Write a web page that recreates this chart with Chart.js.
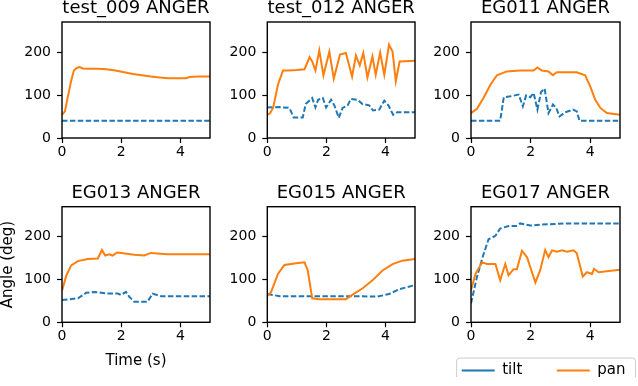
<!DOCTYPE html>
<html>
<head>
<meta charset="utf-8">
<script src="https://cdn.jsdelivr.net/npm/chart.js@4/dist/chart.umd.min.js"></script>
<style>
html, body { margin: 0; padding: 0; background: #fff; overflow: hidden; }
#fig { position: relative; width: 638px; height: 386px; overflow: hidden; background: #fff; }
#fig canvas { position: absolute; }
</style>
</head>
<body>
<div id="fig"></div>
<script>
// tick labels and names
const xTicks = [0, 2, 4];
const yTicks = [0, 100, 200];
const seriesNames = ['tilt', 'pan'];
const panelTitles = ['test_009 ANGER', 'test_012 ANGER', 'EG011 ANGER', 'EG013 ANGER', 'EG015 ANGER', 'EG017 ANGER'];
const xAxisTitle = 'Time (s)';
const yAxisTitle = 'Angle (deg)';

// test_009
const test009TiltTime = [0, 5];
const test009Tilt = [40, 40];
const test009PanTime = [0, 0.1, 0.2, 0.3, 0.4, 0.5, 0.6, 0.7, 0.9, 1.2, 1.5, 1.8, 2.1, 2.4, 2.7, 3.0, 3.3, 3.6, 3.9, 4.2, 4.3, 4.6, 5.0];
const test009Pan = [54, 62, 97, 130, 157, 163, 165, 162, 161, 161, 160, 157, 153, 149, 146, 143, 141, 139, 139, 139, 142, 143, 143];

// test_012
const test012TiltTime = [0, 0.4, 0.75, 0.89, 1.2, 1.3, 1.52, 1.63, 1.72, 1.88, 1.99, 2.16, 2.27, 2.42, 2.55, 2.72, 2.83, 3.06, 3.22, 3.45, 3.58, 3.79, 3.96, 4.1, 4.26, 4.4, 5.0];
const test012Tilt = [71, 72, 70, 48, 48, 79, 93, 71, 89, 93, 71, 89, 76, 47, 70, 76, 91, 89, 79, 76, 64, 66, 87, 76, 54, 60, 60];
const test012PanTime = [0, 0.1, 0.2, 0.36, 0.53, 0.7, 1.0, 1.26, 1.43, 1.52, 1.63, 1.76, 1.9, 2.1, 2.25, 2.46, 2.66, 2.87, 3.0, 3.13, 3.25, 3.39, 3.56, 3.67, 3.82, 3.96, 4.12, 4.24, 4.35, 4.48, 5.0];
const test012Pan = [54, 58, 71, 124, 157, 157, 158, 160, 188, 178, 157, 204, 146, 201, 138, 194, 198, 143, 192, 169, 198, 141, 190, 147, 199, 147, 217, 201, 132, 178, 180];

// EG011
const eg011TiltTime = [0, 0.98, 1.1, 1.32, 1.6, 1.74, 1.85, 1.99, 2.1, 2.23, 2.35, 2.47, 2.6, 2.75, 2.86, 2.97, 3.16, 3.42, 3.55, 3.64, 5.0];
const eg011Tilt = [40, 40, 95, 97, 101, 74, 99, 95, 105, 66, 107, 115, 58, 78, 70, 50, 60, 66, 62, 40, 40];
const eg011PanTime = [0, 0.2, 0.42, 0.65, 0.87, 1.2, 1.65, 2.1, 2.23, 2.38, 2.6, 2.75, 2.88, 3.55, 3.83, 4.0, 4.17, 4.34, 4.56, 5.0];
const eg011Pan = [58, 68, 93, 124, 146, 155, 157, 157, 164, 157, 155, 146, 153, 153, 146, 120, 89, 70, 58, 54];

// EG013
const eg013TiltTime = [0, 0.54, 0.82, 1.1, 1.55, 1.88, 2.0, 2.16, 2.27, 2.44, 2.89, 3.06, 3.35, 5.0];
const eg013Tilt = [52, 56, 69, 71, 67, 67, 64, 71, 60, 48, 48, 67, 61, 61];
const eg013PanTime = [0, 0.15, 0.31, 0.54, 0.87, 1.21, 1.35, 1.46, 1.6, 1.71, 1.86, 2.0, 2.44, 2.78, 3.0, 3.56, 5.0];
const eg013Pan = [74, 110, 133, 143, 148, 149, 169, 156, 159, 156, 163, 162, 158, 156, 162, 159, 159];

// EG015
const eg015TiltTime = [0, 0.42, 3.0, 3.73, 4.12, 4.46, 5.0];
const eg015Tilt = [66, 61, 61, 60, 66, 77, 87];
const eg015PanTime = [0, 0.13, 0.36, 0.58, 0.98, 1.26, 1.37, 1.52, 1.76, 2.66, 2.94, 3.22, 3.56, 3.9, 4.24, 4.57, 5.0];
const eg015Pan = [61, 71, 113, 134, 138, 140, 121, 56, 54, 54, 67, 79, 98, 121, 136, 144, 148];

// EG017
const eg017TiltTime = [0, 0.2, 0.42, 0.59, 0.82, 0.98, 1.26, 1.52, 1.65, 1.99, 2.32, 3.22, 5.0];
const eg017Tilt = [44, 106, 159, 194, 202, 219, 225, 225, 231, 226, 228, 231, 231];
const eg017PanTime = [0, 0.15, 0.37, 0.54, 0.82, 0.98, 1.15, 1.26, 1.43, 1.54, 1.71, 1.88, 2.16, 2.32, 2.49, 2.6, 2.72, 2.88, 3.05, 3.22, 3.44, 3.55, 3.75, 3.89, 4.06, 4.13, 4.28, 5.0];
const eg017Pan = [75, 113, 140, 136, 136, 98, 136, 110, 124, 124, 167, 152, 93, 121, 169, 152, 168, 165, 168, 165, 168, 161, 107, 117, 113, 125, 117, 123];

Chart.defaults.font.family = "'DejaVu Sans', sans-serif";
Chart.defaults.color = '#000';

const TILT_COLOR = '#1f77b4';
const PAN_COLOR = '#ff7f0e';
const LABEL_SIZE = 15;

function toPoints(ts, vs) {
    return ts.map((t, i) => ({ x: t, y: vs[i] }));
}

// black box round each plot, like matplotlib spines
const panelFrame = {
    id: 'panelFrame',
    afterDraw(chart) {
        const { left, top, right, bottom } = chart.chartArea;
        const ctx = chart.ctx;
        ctx.save();
        ctx.strokeStyle = '#000';
        ctx.lineWidth = 1.4;
        ctx.strokeRect(left, top, right - left, bottom - top);
        ctx.restore();
    }
};

// moves the legend to its spot and draws the rounded grey frame
const legendFrame = {
    id: 'legendFrame',
    afterLayout(chart, args, opts) {
        if (!opts.place) return;
        const lg = chart.legend;
        const p = lg.options.labels.padding;
        const left = opts.place.x - p;
        const top = opts.place.y - p - LABEL_SIZE / 2;
        lg.left = left; lg.top = top;
        lg.width = 400; lg.height = 80;
        lg.right = left + 400; lg.bottom = top + 80;
    },
    afterDraw(chart, args, opts) {
        if (!opts.place) return;
        const lg = chart.legend;
        const ctx = chart.ctx;
        const lab = lg.options.labels;
        ctx.save();
        ctx.font = LABEL_SIZE + "px 'DejaVu Sans'";
        let x = opts.place.x;
        let end = x;
        lg.legendItems.forEach(item => {
            const w = lab.pointStyleWidth + LABEL_SIZE / 2 + ctx.measureText(item.text).width;
            end = x + w;
            x += w + lab.padding;
        });
        const x0 = opts.place.x - 5, x1 = end + 10;
        const y0 = opts.place.y - 12.5, y1 = opts.place.y + 12.5;
        ctx.strokeStyle = '#cccccc';
        ctx.lineWidth = 1;
        ctx.beginPath();
        ctx.roundRect(x0, y0, x1 - x0, y1 - y0, 3);
        ctx.stroke();
        ctx.restore();
    }
};

const panels = [
    { title: panelTitles[0], tiltT: test009TiltTime, tiltV: test009Tilt, panT: test009PanTime, panV: test009Pan },
    { title: panelTitles[1], tiltT: test012TiltTime, tiltV: test012Tilt, panT: test012PanTime, panV: test012Pan },
    { title: panelTitles[2], tiltT: eg011TiltTime, tiltV: eg011Tilt, panT: eg011PanTime, panV: eg011Pan },
    { title: panelTitles[3], tiltT: eg013TiltTime, tiltV: eg013Tilt, panT: eg013PanTime, panV: eg013Pan },
    { title: panelTitles[4], tiltT: eg015TiltTime, tiltV: eg015Tilt, panT: eg015PanTime, panV: eg015Pan },
    { title: panelTitles[5], tiltT: eg017TiltTime, tiltV: eg017Tilt, panT: eg017PanTime, panV: eg017Pan }
];

// plot-area boxes in page pixels
const plotBoxes = [
    { left: 62, top: 22, w: 148, h: 116 },
    { left: 267.3, top: 22, w: 147.7, h: 116 },
    { left: 471, top: 22, w: 149, h: 116 },
    { left: 62, top: 206.7, w: 148, h: 115.6 },
    { left: 267.3, top: 206.7, w: 147.7, h: 115.6 },
    { left: 471, top: 206.7, w: 149, h: 115.6 }
];

const panelExtras = [
    { axisW: 50, xAxisH: 24, rightSpace: 8 },
    { axisW: 50, xAxisH: 24, rightSpace: 8 },
    { axisW: 50, xAxisH: 24, rightSpace: 8 },
    { axisW: 63, xAxisH: 47, rightSpace: 8, axisTitles: true },
    { axisW: 50, xAxisH: 24, rightSpace: 8 },
    { axisW: 41, xAxisH: 24, rightSpace: 18, legend: { x: 461.7, y: 370.5 } }
];

function makePanel(panel, box, extra) {
    const fig = document.getElementById('fig');
    const cLeft = Math.floor(box.left - extra.axisW);
    const cTop = Math.floor(box.top - 24);
    const yW = box.left - cLeft;
    const titleSpace = box.top - cTop;
    const legendH = extra.legend ? 30 : 0;
    const cW = Math.ceil(yW + box.w + extra.rightSpace);
    const cH = Math.ceil(titleSpace + box.h + extra.xAxisH + legendH);
    const xH = cH - legendH - titleSpace - box.h;
    const padRight = cW - yW - box.w;

    const canvas = document.createElement('canvas');
    canvas.width = cW;
    canvas.height = cH;
    canvas.style.left = cLeft + 'px';
    canvas.style.top = cTop + 'px';
    canvas.style.width = cW + 'px';
    canvas.style.height = cH + 'px';
    fig.appendChild(canvas);

    const tickGrid = {
        display: true,
        drawOnChartArea: false,
        drawTicks: true,
        tickLength: 5,
        tickWidth: 1.2,
        tickColor: '#000'
    };

    new Chart(canvas, {
        type: 'line',
        data: {
            datasets: [{
                label: seriesNames[0],
                data: toPoints(panel.tiltT, panel.tiltV),
                borderColor: TILT_COLOR,
                backgroundColor: TILT_COLOR,
                borderWidth: 2,
                borderDash: [5.5, 2.4],
                pointRadius: 0,
                tension: 0,
                fill: false,
                order: 1
            }, {
                label: seriesNames[1],
                data: toPoints(panel.panT, panel.panV),
                borderColor: PAN_COLOR,
                backgroundColor: PAN_COLOR,
                borderWidth: 2,
                pointRadius: 0,
                tension: 0,
                fill: false,
                order: 0
            }]
        },
        options: {
            responsive: false,
            animation: false,
            devicePixelRatio: 1,
            layout: { padding: { left: 0, top: 0, right: padRight, bottom: 0 } },
            scales: {
                x: {
                    type: 'linear',
                    min: 0,
                    max: 5,
                    afterBuildTicks: s => { s.ticks = xTicks.map(v => ({ value: v })); },
                    afterFit: s => { s.height = xH; },
                    grid: tickGrid,
                    border: { display: false },
                    ticks: { font: { size: 14 }, padding: 1, maxRotation: 0, color: '#000' },
                    title: {
                        display: !!extra.axisTitles,
                        text: xAxisTitle,
                        font: { size: LABEL_SIZE },
                        color: '#000',
                        padding: { top: 0, bottom: 0 }
                    }
                },
                y: {
                    type: 'linear',
                    min: 0,
                    max: 270,
                    afterBuildTicks: s => { s.ticks = yTicks.map(v => ({ value: v })); },
                    afterFit: s => { s.width = yW; },
                    grid: tickGrid,
                    border: { display: false },
                    ticks: { font: { size: 14 }, padding: 6, color: '#000' },
                    title: {
                        display: !!extra.axisTitles,
                        text: yAxisTitle,
                        font: { size: LABEL_SIZE },
                        color: '#000',
                        padding: { top: 0, bottom: 0 }
                    }
                }
            },
            plugins: {
                title: {
                    display: true,
                    fullSize: false,
                    text: panel.title,
                    font: { size: 18, weight: 'normal', lineHeight: 1.15 },
                    color: '#000',
                    padding: { top: titleSpace - 24, bottom: 24 - 18 * 1.15 }
                },
                legend: extra.legend ? {
                    display: true,
                    position: 'bottom',
                    align: 'start',
                    maxHeight: legendH,
                    labels: {
                        usePointStyle: true,
                        pointStyle: 'line',
                        pointStyleWidth: 33,
                        padding: 34.5,
                        color: '#000',
                        font: { size: LABEL_SIZE },
                        sort: (a, b) => a.datasetIndex - b.datasetIndex
                    }
                } : { display: false },
                tooltip: { enabled: false },
                legendFrame: extra.legend ? { place: { x: extra.legend.x - cLeft, y: extra.legend.y - cTop } } : {}
            }
        },
        plugins: [panelFrame, legendFrame]
    });
}

panels.forEach((p, i) => makePanel(p, plotBoxes[i], panelExtras[i]));
</script>
</body>
</html>
